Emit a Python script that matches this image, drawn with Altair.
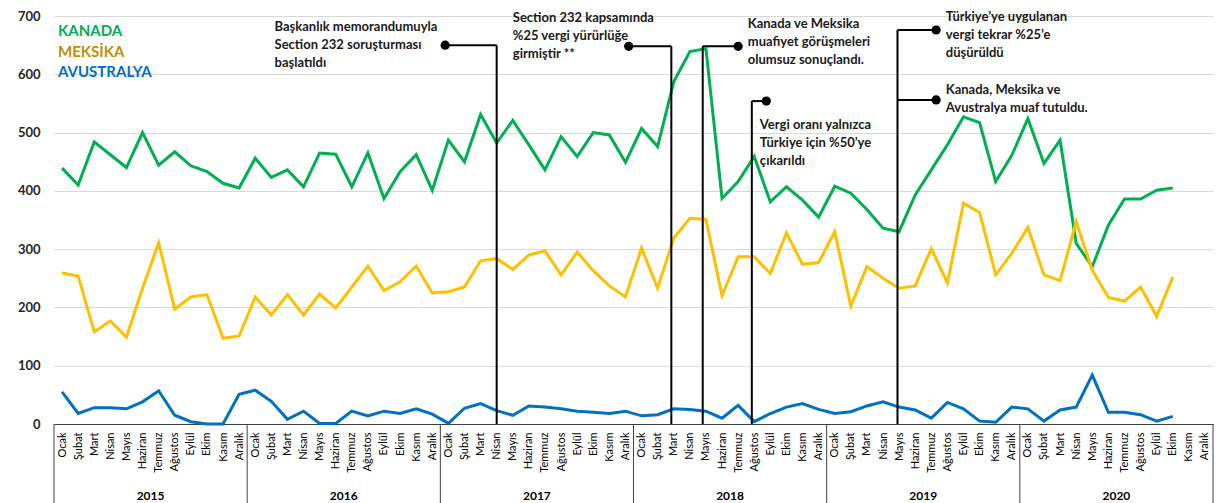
import altair as alt
import pandas as pd

months = ["Ocak", "Şubat", "Mart", "Nisan", "Mayıs", "Haziran", "Temmuz",
          "Ağustos", "Eylül", "Ekim", "Kasım", "Aralık"]
years = ["2015", "2016", "2017", "2018", "2019", "2020"]
series_names = ["KANADA", "MEKSİKA", "AVUSTRALYA"]
series_colors = ["#00B050", "#FFC000", "#0070C0"]
legend_colors = ["#00B050", "#BF9000", "#0070C0"]

kanada = [439, 410, 484, 462, 440, 500, 444, 467, 443, 433, 413, 405,
          456, 423, 436, 407, 465, 463, 407, 465, 387, 433, 462, 401,
          487, 450, 531, 482, 521, 479, 436, 493, 459, 500, 496, 449,
          507, 476, 587, 639, 644, 387, 416, 459, 381, 407, 384, 355,
          408, 396, 368, 336, 330, 393, 436, 479, 527, 517, 416, 461,
          524, 447, 487, 310, 270, 341, 386, 386, 401, 405]
meksika = [259, 254, 158, 177, 149, 233, 311, 197, 218, 222, 147, 151,
           218, 187, 222, 187, 223, 199, 235, 271, 229, 244, 271, 225,
           227, 235, 280, 284, 265, 290, 297, 256, 295, 263, 237, 218,
           302, 233, 319, 353, 351, 220, 287, 287, 258, 328, 274, 277,
           330, 202, 270, 250, 233, 237, 301, 242, 379, 363, 256, 293,
           337, 256, 246, 347, 264, 217, 211, 235, 185, 252]
avustralya = [55, 18, 28, 28, 26, 38, 57, 15, 4, 0, 0, 51,
              58, 39, 8, 22, 1, 1, 22, 14, 22, 18, 26, 17,
              1, 27, 35, 23, 15, 31, 29, 26, 22, 20, 18, 22,
              14, 16, 26, 25, 22, 10, 32, 4, 18, 29, 35, 25,
              18, 21, 31, 38, 29, 24, 10, 37, 26, 5, 3, 29,
              26, 5, 24, 29, 84, 20, 20, 16, 5, 13]

# annotation connectors (in month-index / value units)
vert_x = [27.0, 37.85, 39.8, 42.85, 51.9]
vert_top = [650, 648, 648, 554, 676]
horiz_x1 = [23.8, 35.2, 39.8, 42.85, 51.9, 51.9]
horiz_x2 = [27.0, 37.85, 42.0, 43.75, 54.3, 54.3]
horiz_y = [650, 648, 648, 554, 676, 556]
dot_x = [23.8, 35.2, 42.0, 43.75, 54.3, 54.3]
dot_y = [650, 648, 648, 554, 676, 556]
ann_x = [13.2, 28.0, 42.6, 43.35, 54.9, 54.9]
ann_y = [681, 697, 686, 513, 698, 573]
ann_text = [
    "Başkanlık memorandumuyla\nSection 232 soruşturması\nbaşlatıldı",
    "Section 232 kapsamında\n%25 vergi yürürlüğe\ngirmiştir **",
    "Kanada ve Meksika\nmuafiyet görüşmeleri\nolumsuz sonuçlandı.",
    "Vergi oranı yalnızca\nTürkiye için %50’ye\nçıkarıldı",
    "Türkiye’ye uygulanan\nvergi tekrar %25’e\ndüşürüldü",
    "Kanada, Meksika ve\nAvustralya muaf tutuldu.",
]

FONT = "Lato"
n = len(kanada)
total = 12 * len(years)

df = pd.DataFrame({
    "i": list(range(n)) * 3,
    "seri": [series_names[0]] * n + [series_names[1]] * n + [series_names[2]] * n,
    "deger": kanada + meksika + avustralya,
})

month_arr = "[" + ",".join("'" + m + "'" for m in months) + "]"
xscale = alt.Scale(domain=[-0.5, total - 0.5], nice=False, zero=False)
yscale = alt.Scale(domain=[0, 700], nice=False)

xaxis = alt.Axis(values=list(range(total)),
                 labelExpr=month_arr + "[datum.value % 12]",
                 labelAngle=-90, labelFontSize=11, labelFont=FONT,
                 labelColor="#000000", labelPadding=8, labelOverlap=False,
                 labelBound=False, labelFlush=False,
                 ticks=False, grid=False, domainColor="#404040", title=None)
yaxis = alt.Axis(values=list(range(0, 701, 100)), grid=True,
                 gridColor="#d9d9d9", gridWidth=1.2, domain=False,
                 ticks=False, labelFontSize=13, labelFont=FONT,
                 labelFontWeight="bold", labelColor="#262626",
                 labelPadding=14, title=None)


def X(field):
    return alt.X(field, scale=xscale, axis=xaxis, title=None)


def Y(field):
    return alt.Y(field, scale=yscale, axis=yaxis, title=None)


lines = alt.Chart(df).mark_line(strokeWidth=3).encode(
    x=X("i:Q"),
    y=Y("deger:Q"),
    color=alt.Color("seri:N", scale=alt.Scale(domain=series_names, range=series_colors),
                    legend=None),
    detail="seri:N",
)

vdf = pd.DataFrame({"x": vert_x, "top": vert_top, "bot": [0] * len(vert_x)})
vlines = alt.Chart(vdf).mark_rule(color="#000000", strokeWidth=2).encode(
    x=X("x:Q"), y=Y("top:Q"), y2="bot:Q",
)

hdf = pd.DataFrame({"x1": horiz_x1, "x2": horiz_x2, "y": horiz_y})
hlines = alt.Chart(hdf).mark_rule(color="#000000", strokeWidth=2).encode(
    x=X("x1:Q"), x2="x2:Q", y=Y("y:Q"),
)

ddf = pd.DataFrame({"x": dot_x, "y": dot_y})
dots = alt.Chart(ddf).mark_circle(size=85, color="#000000", opacity=1).encode(
    x=X("x:Q"), y=Y("y:Q"),
)

tdf = pd.DataFrame({"x": ann_x, "y": ann_y, "t": ann_text})
texts = alt.Chart(tdf).mark_text(
    align="left", baseline="middle", lineBreak="\n", lineHeight=18,
    font=FONT, fontSize=13, fontWeight="bold", color="#1a1a1a",
).encode(x=X("x:Q"), y=Y("y:Q"), text="t:N")

legend_layers = []
for k, (name, col) in enumerate(zip(series_names, legend_colors)):
    legend_layers.append(
        alt.Chart(pd.DataFrame({"t": [name]})).mark_text(
            align="left", baseline="middle", font=FONT, fontSize=15,
            fontWeight="bold", color=col,
        ).encode(x=alt.value(4), y=alt.value(15 + 20.5 * k), text="t:N")
    )

sep_df = pd.DataFrame({"x": [12 * k - 0.5 for k in range(len(years) + 1)]})
seps = alt.Chart(sep_df).mark_rule(color="#404040", strokeWidth=1).encode(
    x=X("x:Q"), y=alt.value(408), y2=alt.value(490),
)

ydf = pd.DataFrame({"x": [12 * k + 5.5 for k in range(len(years))], "t": years})
ylabels = alt.Chart(ydf).mark_text(
    align="center", baseline="middle", font=FONT, fontSize=12,
    fontWeight="bold", color="#000000",
).encode(x=X("x:Q"), y=alt.value(480), text="t:N")

chart = alt.layer(
    lines, vlines, hlines, dots, texts, seps, ylabels, *legend_layers
).properties(
    width=1159, height=408,
    autosize=alt.AutoSizeParams(type="none"),
    padding={"left": 46, "top": 8, "right": 10, "bottom": 79},
    background="#ffffff",
).configure_view(stroke=None)

chart.save("out.html", embed_options={"renderer": "svg", "actions": False})
